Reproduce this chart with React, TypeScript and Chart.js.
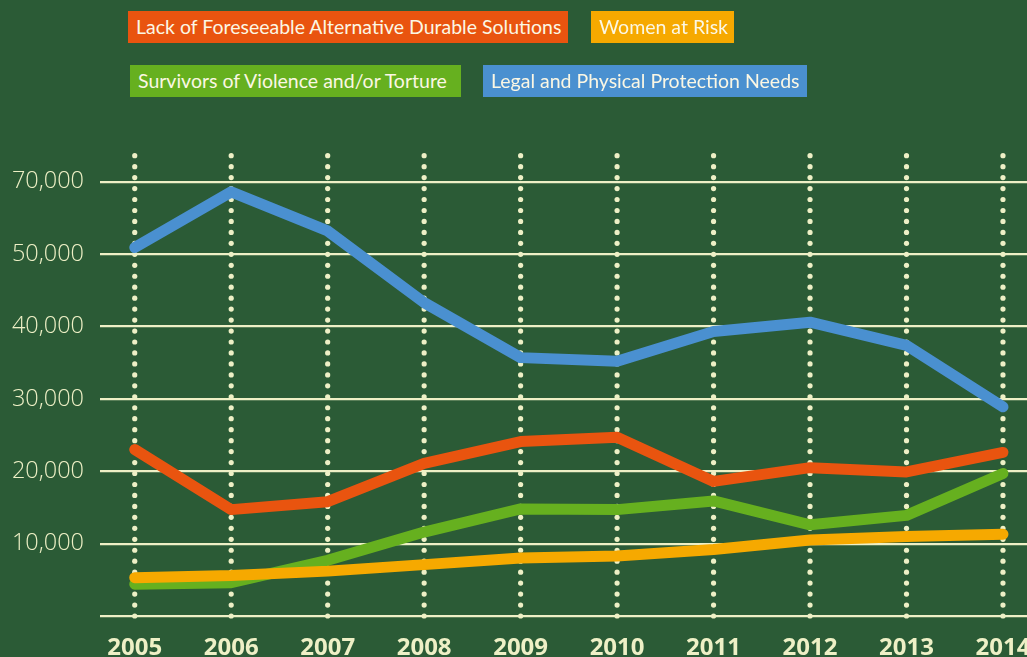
import React, { useEffect, useRef } from "react";
import { Chart, registerables } from "chart.js";

Chart.register(...registerables);

const years = [2005, 2006, 2007, 2008, 2009, 2010, 2011, 2012, 2013, 2014];
const yearLabels = ["2005", "2006", "2007", "2008", "2009", "2010", "2011", "2012", "2013", "2014"];

const legalProtection = [50900, 58600, 53200, 43300, 35700, 35200, 39300, 40600, 37400, 28900];
const lackOfSolutions = [23000, 14700, 15800, 21100, 24100, 24700, 18600, 20500, 19900, 22600];
const survivorsViolence = [4400, 4600, 7700, 11600, 14800, 14700, 15900, 12600, 13900, 19700];
const womenAtRisk = [5300, 5600, 6200, 7100, 8000, 8300, 9200, 10500, 11000, 11300];

const yTickValues = [0, 10000, 20000, 30000, 40000, 50000, 60000];
const yTickLabels = ["", "10,000", "20,000", "30,000", "40,000", "50,000", "70,000"];

const BG = "#2b5b36";
const CREAM = "#eef0c6";
const ORANGE = "#e9540f";
const YELLOW = "#f6a900";
const GREEN = "#66b01f";
const BLUE = "#4a90d0";

const legendItems = [
  { text: "Lack of Foreseeable Alternative Durable Solutions", color: ORANGE, left: 128, top: 11, width: 440 },
  { text: "Women at Risk", color: YELLOW, left: 591, top: 11, width: 143 },
  { text: "Survivors of Violence and/or Torture", color: GREEN, left: 130, top: 65, width: 331 },
  { text: "Legal and Physical Protection Needs", color: BLUE, left: 483, top: 65, width: 324 },
];

const dottedColumns = {
  id: "dottedColumns",
  beforeDatasetsDraw(chart: any) {
    const { ctx, chartArea, scales } = chart;
    const xs = scales.x;
    const ys = scales.y;
    const bottom = ys.getPixelForValue(0);
    const spacing = 10.96;
    ctx.save();
    ctx.fillStyle = CREAM;
    years.forEach((yr) => {
      const px = xs.getPixelForValue(yr);
      for (let k = 0; k <= 42; k++) {
        const py = bottom - k * spacing;
        if (py < chartArea.top - 1) break;
        ctx.beginPath();
        ctx.arc(px, py, 2.6, 0, Math.PI * 2);
        ctx.fill();
      }
    });
    ctx.restore();
  },
};

const toPoints = (vals: number[]) => vals.map((v, i) => ({ x: years[i], y: v }));

export default function App() {
  const ref = useRef<HTMLCanvasElement | null>(null);

  useEffect(() => {
    if (!ref.current) return;
    const lineStyle = {
      borderWidth: 11,
      pointRadius: 0,
      borderCapStyle: "round" as const,
      borderJoinStyle: "round" as const,
      tension: 0,
      fill: false,
    };
    const chart = new Chart(ref.current, {
      type: "line",
      data: {
        datasets: [
          { label: "Legal and Physical Protection Needs", data: toPoints(legalProtection), borderColor: BLUE, backgroundColor: BLUE, order: 1, ...lineStyle },
          { label: "Lack of Foreseeable Alternative Durable Solutions", data: toPoints(lackOfSolutions), borderColor: ORANGE, backgroundColor: ORANGE, order: 2, ...lineStyle },
          { label: "Women at Risk", data: toPoints(womenAtRisk), borderColor: YELLOW, backgroundColor: YELLOW, order: 3, ...lineStyle },
          { label: "Survivors of Violence and/or Torture", data: toPoints(survivorsViolence), borderColor: GREEN, backgroundColor: GREEN, order: 4, ...lineStyle },
        ],
      },
      options: {
        animation: false,
        responsive: false,
        layout: { padding: { top: 152.8, left: 0, right: 0, bottom: 0 } },
        plugins: { legend: { display: false }, tooltip: { enabled: false } },
        scales: {
          x: {
            type: "linear",
            min: 2004.64,
            max: 2014.249,
            grid: { display: false, drawTicks: false },
            border: { display: false },
            afterBuildTicks: (scale: any) => {
              scale.ticks = years.map((v) => ({ value: v }));
            },
            afterFit: (scale: any) => {
              scale.paddingLeft = 0;
              scale.paddingRight = 0;
              scale.height = 41;
            },
            ticks: {
              autoSkip: false,
              maxRotation: 0,
              padding: 18,
              color: CREAM,
              font: { family: "'Open Sans', sans-serif", size: 24, weight: "bold" },
              callback: (value: any) => {
                const i = years.indexOf(Number(value));
                return i >= 0 ? yearLabels[i] : "";
              },
            },
          },
          y: {
            type: "linear",
            min: 0,
            max: 64000,
            grid: { color: CREAM, lineWidth: 2.2, drawTicks: false },
            border: { display: false },
            afterBuildTicks: (scale: any) => {
              scale.ticks = yTickValues.map((v) => ({ value: v }));
            },
            afterFit: (scale: any) => {
              scale.width = 100;
            },
            ticks: {
              padding: 16,
              color: CREAM,
              font: { family: "'Open Sans', sans-serif", size: 23.5, weight: 300 },
              callback: (value: any) => {
                const i = yTickValues.indexOf(Number(value));
                return i >= 0 ? yTickLabels[i] : "";
              },
            },
          },
        },
      },
      plugins: [dottedColumns],
    });
    return () => chart.destroy();
  }, []);

  return (
    <div style={{ position: "fixed", left: 0, top: 0, width: 1027, height: 657, background: BG, overflow: "hidden" }}>
      <canvas ref={ref} width={1027} height={657} style={{ display: "block", width: 1027, height: 657 }} />
      {legendItems.map((it) => (
        <div
          key={it.text}
          style={{
            position: "absolute",
            left: it.left,
            top: it.top,
            width: it.width,
            height: 32,
            background: it.color,
            color: "#fbf7e4",
            fontFamily: "Lato, 'Open Sans', sans-serif",
            fontSize: 19.5,
            lineHeight: "32px",
            paddingLeft: 8,
            boxSizing: "border-box",
            whiteSpace: "nowrap",
            overflow: "hidden",
          }}
        >
          {it.text}
        </div>
      ))}
    </div>
  );
}
